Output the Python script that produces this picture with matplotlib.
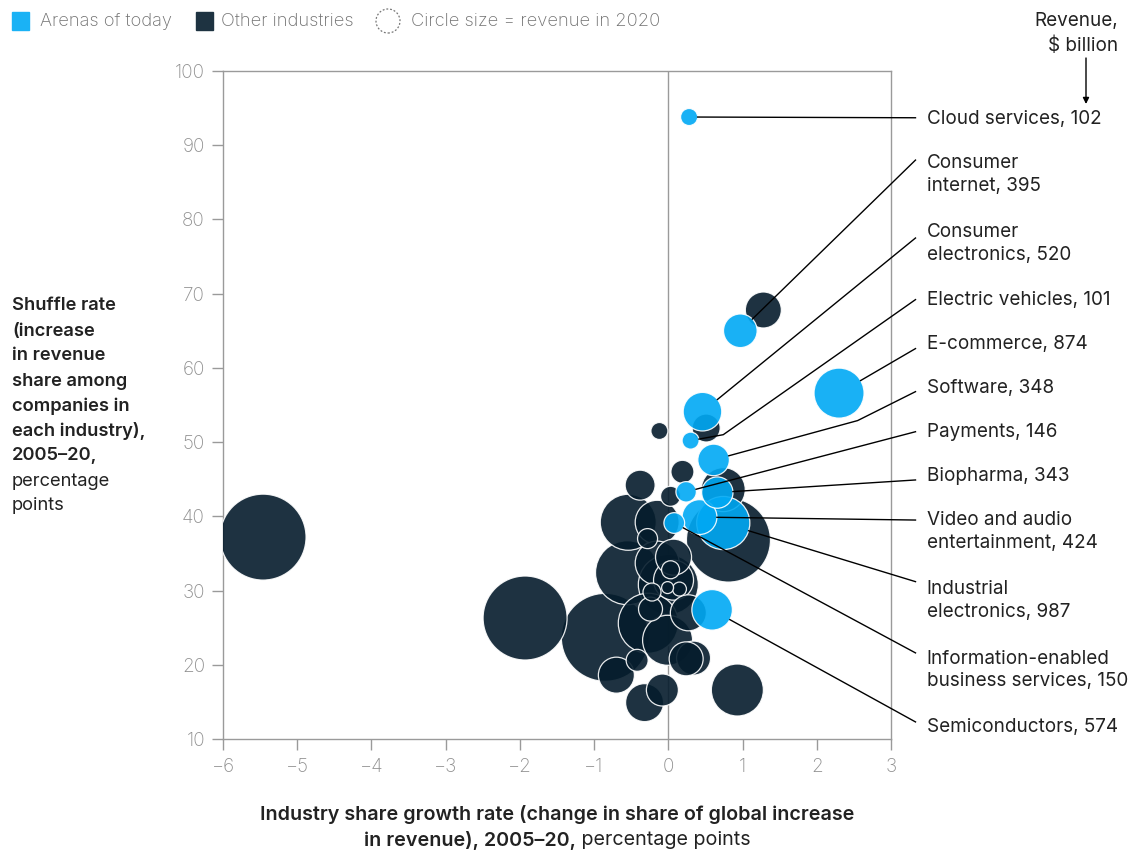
import matplotlib
matplotlib.use("Agg")
import matplotlib.pyplot as plt
from matplotlib.patches import Rectangle, Circle
import numpy as np

plt.rcParams['font.family'] = ['Inter', 'DejaVu Sans']

# ---------------- data ----------------
arena_names = ["Cloud services", "Consumer\ninternet", "Consumer\nelectronics",
               "Electric vehicles", "E-commerce", "Software", "Payments", "Biopharma",
               "Video and audio\nentertainment", "Industrial\nelectronics",
               "Information-enabled\nbusiness services", "Semiconductors"]
arena_rev = [102, 395, 520, 101, 874, 348, 146, 343, 424, 987, 150, 574]
arena_x = [0.28, 0.97, 0.46, 0.30, 2.30, 0.61, 0.24, 0.66, 0.42, 0.74, 0.08, 0.59]
arena_y = [93.8, 65.0, 54.1, 50.2, 56.6, 47.6, 43.3, 43.2, 39.9, 39.1, 39.1, 27.4]

other_x = [-5.46, -1.93, -0.85, 1.28, -0.12, 0.51, 0.19, -0.38, 0.74, 0.03,
           -0.54, -0.15, 0.81, -0.28, -0.55, 0.07, 0.03, -0.15, 0.07, -0.01,
           0.15, -0.22, -0.24, -0.27, 0.27, -0.01, -0.42, -0.70, 0.24, 0.34,
           -0.08, -0.32, 0.93, 0.00]
other_y = [37.2, 26.3, 23.7, 67.8, 51.5, 51.9, 46.0, 44.2, 43.6, 42.7,
           39.2, 39.2, 36.8, 37.0, 32.4, 34.5, 32.8, 33.7, 31.4, 30.4,
           30.2, 29.8, 27.5, 25.6, 27.0, 23.3, 20.6, 18.6, 20.8, 20.9,
           16.6, 14.9, 16.6, 30.8]
other_rev = [2580, 2465, 2700, 453, 101, 274, 185, 314, 676, 140,
             1095, 676, 2465, 140, 1430, 453, 113, 676, 559, 50,
             68, 113, 201, 1257, 453, 873, 169, 453, 404, 404,
             358, 504, 945, 1257]

x_ticks = [-6, -5, -4, -3, -2, -1, 0, 1, 2, 3]
y_ticks = [10, 20, 30, 40, 50, 60, 70, 80, 90, 100]

# label layout (positions only)
label_y = [93.6, 86.0, 76.7, 69.2, 63.2, 57.3, 51.4, 45.4, 37.9, 28.6, 19.3, 11.6]
line_end_y = [93.7, 88.0, 77.5, 69.2, 62.6, 56.8, 51.4, 44.9, 39.5, 31.2, 21.6, 12.3]
elbows = {3: (0.74, 51.0), 5: (2.55, 52.9)}

DARK = "#051c2c"
BLUE = "#00a9f4"
GRAY = "#8f8f8f"
TXT = "#222222"
FS = 13.2
FSL = 13.6
FSX = 14.2

W, H = 1134, 850
fig = plt.figure(figsize=(W / 100, H / 100), dpi=100)
ax = fig.add_axes([223 / W, 1 - 739 / H, (891 - 223) / W, (739 - 71) / H])
ax.set_xlim(-6, 3)
ax.set_ylim(10, 100)

K = 1.484  # points^2 per $bn


def draw(xs, ys, revs, color, z):
    order = np.argsort(revs)[::-1]
    xs, ys, revs = np.array(xs), np.array(ys), np.array(revs, dtype=float)
    ax.scatter(xs[order], ys[order], s=K * revs[order], color=color, alpha=0.9,
               edgecolors="white", linewidths=0.9, zorder=z)


draw(other_x, other_y, other_rev, DARK, 3)
draw(arena_x, arena_y, arena_rev, BLUE, 4)

ax.axvline(0, color="#9a9a9a", lw=1, zorder=1)
for sp in ax.spines.values():
    sp.set_color("#9a9a9a")
    sp.set_linewidth(1)
ax.set_xticks(x_ticks)
ax.set_xticklabels([("\u2212" + str(-t)) if t < 0 else str(t) for t in x_ticks])
ax.set_yticks(y_ticks)
ax.tick_params(axis="both", colors="#9a9a9a", length=8, width=1, labelsize=FS + 0.4,
               labelcolor=GRAY, pad=5)
ax.tick_params(axis="x", pad=6)
for lab in ax.get_xticklabels() + ax.get_yticklabels():
    lab.set_fontweight("light")

# leader lines
to_disp = ax.transData.transform
to_data = ax.transData.inverted().transform
x_end = 3.33
for i in range(len(arena_names)):
    cx, cy = arena_x[i], arena_y[i]
    r_px = np.sqrt(K * arena_rev[i]) / 2 / 0.72
    pts = [(cx, cy)]
    if i in elbows:
        pts.append(elbows[i])
    pts.append((x_end, line_end_y[i]))
    c = to_disp((cx, cy))
    n = to_disp(pts[1])
    d = (n - c) / np.linalg.norm(n - c)
    start = to_data(c + d * r_px)
    pts[0] = tuple(start)
    xs = [p[0] for p in pts]
    ys = [p[1] for p in pts]
    ax.plot(xs, ys, color="black", lw=1, clip_on=False, zorder=5)
    ax.text(3.48, label_y[i], f"{arena_names[i]}, {arena_rev[i]}", fontsize=FSL,
            color=TXT, va="center", ha="left", linespacing=1.35, clip_on=False)


def fx(px):
    return px / W


def fy(py):
    return 1 - py / H


# y label block
ylines_bold = ["Shuffle rate", "(increase", "in revenue", "share among",
               "companies in", "each industry),", "2005\u201320,"]
ylines_reg = ["percentage", "points"]
for i, t in enumerate(ylines_bold + ylines_reg):
    fig.text(fx(12), fy(306 + 25 * i), t, fontsize=FS, color=TXT,
             fontweight="semibold" if i < len(ylines_bold) else "normal",
             va="center", ha="left")

# x label
fig.text(fx(557), fy(815), "Industry share growth rate (change in share of global increase",
         fontsize=FSX, fontweight="semibold", color=TXT, ha="center", va="center")
b = fig.text(fx(557), fy(840), "in revenue), 2005\u201320,", fontsize=FSX,
             fontweight="semibold", color=TXT, ha="left", va="center")
r = fig.text(fx(557), fy(840), " percentage points", fontsize=FSX, color=TXT,
             ha="left", va="center")
fig.canvas.draw()
rend = fig.canvas.get_renderer()
wb = b.get_window_extent(rend).width
wr = r.get_window_extent(rend).width
x0 = 557 - (wb + wr) / 2
b.set_x(fx(x0))
r.set_x(fx(x0 + wb))

# legend
fig.add_artist(Rectangle((fx(12), fy(30)), 17 / W, 18 / H, color="#1ab2f5",
                         transform=fig.transFigure))
fig.text(fx(40), fy(21), "Arenas of today", fontsize=FS, color="#707070", va="center",
         fontweight="light")
fig.add_artist(Rectangle((fx(196), fy(30)), 17 / W, 18 / H, color="#1e3341",
                         transform=fig.transFigure))
fig.text(fx(221), fy(21), "Other industries", fontsize=FS, color="#707070", va="center",
         fontweight="light")
fig.add_artist(Circle((388, H - 21), 12, transform=None, fill=False,
                      edgecolor="#777777", lw=0.9, ls=(0, (1.5, 1.5))))
fig.text(fx(411), fy(21), "Circle size = revenue in 2020", fontsize=FS,
         color="#707070", va="center", fontweight="light")

# revenue header
fig.text(fx(1118), fy(21), "Revenue,", fontsize=FSL, color=TXT, ha="right", va="center")
fig.text(fx(1118), fy(46), "$ billion", fontsize=FSL, color=TXT, ha="right", va="center")
ax.annotate("", xy=(fx(1086), fy(104)), xytext=(fx(1086), fy(58)),
            xycoords="figure fraction", textcoords="figure fraction",
            arrowprops=dict(arrowstyle="-|>", color="black", lw=1,
                            mutation_scale=9, shrinkA=0, shrinkB=0))

fig.savefig("out.png", dpi=100)
